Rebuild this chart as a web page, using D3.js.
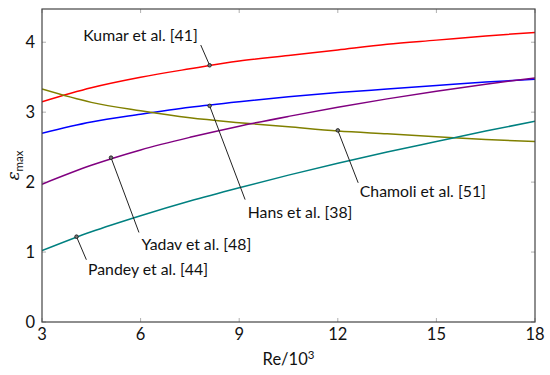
<!DOCTYPE html>
<html>
<head>
<meta charset="utf-8">
<script src="https://cdn.jsdelivr.net/npm/d3@7"></script>
<style>
  body { margin: 0; background: #fff; }
  svg { font-family: Lato, "Open Sans", sans-serif; }
</style>
</head>
<body>
<div id="chart"></div>
<script>
// Re/10^3 sample points
const reValues = [3, 4.5, 6, 7.5, 9, 10.5, 12, 13.5, 15, 16.5, 18];

// eps_max
const kumar   = [3.15, 3.35, 3.50, 3.62, 3.73, 3.81, 3.89, 3.97, 4.03, 4.09, 4.14];
const hans    = [2.70, 2.86, 2.97, 3.07, 3.15, 3.22, 3.28, 3.33, 3.38, 3.43, 3.47];
const chamoli = [3.33, 3.14, 3.02, 2.92, 2.85, 2.79, 2.73, 2.69, 2.65, 2.61, 2.58];
const yadav   = [1.97, 2.24, 2.46, 2.64, 2.80, 2.94, 3.07, 3.19, 3.30, 3.40, 3.49];
const pandey  = [1.02, 1.29, 1.52, 1.73, 1.92, 2.10, 2.27, 2.43, 2.58, 2.73, 2.87];

const xTicks = [3, 6, 9, 12, 15, 18];
const yTicks = [0, 1, 2, 3, 4];

const series = [
  { name: 'Kumar et al. [41]',   values: kumar,   color: '#ff0000' },
  { name: 'Hans et al. [38]',    values: hans,    color: '#0000ff' },
  { name: 'Chamoli et al. [51]', values: chamoli, color: '#808000' },
  { name: 'Yadav et al. [48]',   values: yadav,   color: '#800080' },
  { name: 'Pandey et al. [44]',  values: pandey,  color: '#008080' }
];

// pin: marker on curve, leader line end, label position (data units)
const pins = [
  { text: 'Kumar et al. [41]',   mx: 8.1,  my: 3.67, lx: 7.83, ly: 3.96, tx: 7.74, ty: 4.10, anchor: 'end' },
  { text: 'Hans et al. [38]',    mx: 8.1,  my: 3.09, lx: 9.18, ly: 1.75, tx: 9.26, ty: 1.56, anchor: 'start' },
  { text: 'Chamoli et al. [51]', mx: 12.0, my: 2.74, lx: 12.62, ly: 1.99, tx: 12.67, ty: 1.87, anchor: 'start' },
  { text: 'Yadav et al. [48]',   mx: 5.1,  my: 2.35, lx: 5.95, ly: 1.28, tx: 6.03, ty: 1.11, anchor: 'start' },
  { text: 'Pandey et al. [44]',  mx: 4.05, my: 1.22, lx: 4.35, ly: 0.89, tx: 4.40, ty: 0.75, anchor: 'start' }
];

const width = 550, height = 375;
const margin = { top: 9, right: 15, bottom: 53, left: 42 };

const svg = d3.select('#chart').append('svg')
  .attr('width', width)
  .attr('height', height);

const x = d3.scaleLinear().domain([3, 18]).range([margin.left, width - margin.right]);
const y = d3.scaleLinear().domain([0, 4.475]).range([height - margin.bottom, margin.top]);

const tickLen = 4;
const gridColor = '#b0b0b0';

// inner ticks on all four sides
const ticks = svg.append('g').attr('stroke', gridColor).attr('stroke-width', 1);
xTicks.forEach(t => {
  ticks.append('line').attr('x1', x(t)).attr('x2', x(t))
    .attr('y1', y.range()[0]).attr('y2', y.range()[0] - tickLen);
  ticks.append('line').attr('x1', x(t)).attr('x2', x(t))
    .attr('y1', y.range()[1]).attr('y2', y.range()[1] + tickLen);
});
yTicks.forEach(t => {
  ticks.append('line').attr('y1', y(t)).attr('y2', y(t))
    .attr('x1', x.range()[0]).attr('x2', x.range()[0] + tickLen);
  ticks.append('line').attr('y1', y(t)).attr('y2', y(t))
    .attr('x1', x.range()[1]).attr('x2', x.range()[1] - tickLen);
});

// curves
const line = d3.line()
  .x((d, i) => x(reValues[i]))
  .y(d => y(d))
  .curve(d3.curveMonotoneX);

svg.append('defs').append('clipPath').attr('id', 'plot')
  .append('rect')
  .attr('x', x.range()[0]).attr('y', y.range()[1])
  .attr('width', x.range()[1] - x.range()[0])
  .attr('height', y.range()[0] - y.range()[1]);

svg.append('g').attr('clip-path', 'url(#plot)')
  .selectAll('path')
  .data(series)
  .join('path')
  .attr('d', d => line(d.values))
  .attr('fill', 'none')
  .attr('stroke', d => d.color)
  .attr('stroke-width', 1.5);

// pins
const pinG = svg.append('g');
pins.forEach(p => {
  pinG.append('line')
    .attr('x1', x(p.mx)).attr('y1', y(p.my))
    .attr('x2', x(p.lx)).attr('y2', y(p.ly))
    .attr('stroke', '#222').attr('stroke-width', 1);
  pinG.append('circle')
    .attr('cx', x(p.mx)).attr('cy', y(p.my)).attr('r', 1.8)
    .attr('fill', '#777').attr('stroke', '#111').attr('stroke-width', 0.8);
  pinG.append('text')
    .attr('x', x(p.tx)).attr('y', y(p.ty))
    .attr('dy', '0.35em')
    .attr('text-anchor', p.anchor)
    .attr('font-size', 15.8)
    .attr('fill', '#111')
    .text(p.text);
});

// frame
svg.append('rect')
  .attr('x', x.range()[0]).attr('y', y.range()[1])
  .attr('width', x.range()[1] - x.range()[0])
  .attr('height', y.range()[0] - y.range()[1])
  .attr('fill', 'none')
  .attr('stroke', '#444')
  .attr('stroke-width', 1.2);

// tick labels
svg.append('g').selectAll('text')
  .data(xTicks)
  .join('text')
  .attr('x', d => x(d))
  .attr('y', y.range()[0] + 12)
  .attr('dy', '0.35em')
  .attr('text-anchor', 'middle')
  .attr('font-size', 16.5)
  .attr('fill', '#111')
  .text(d => d);

svg.append('g').selectAll('text')
  .data(yTicks)
  .join('text')
  .attr('x', x.range()[0] - 7)
  .attr('y', d => y(d))
  .attr('dy', '0.35em')
  .attr('text-anchor', 'end')
  .attr('font-size', 16.5)
  .attr('fill', '#111')
  .text(d => d);

// axis titles
const xt = svg.append('text')
  .attr('x', (x.range()[0] + x.range()[1]) / 2)
  .attr('y', 365)
  .attr('text-anchor', 'middle')
  .attr('font-size', 16.5)
  .attr('fill', '#111');
xt.append('tspan').text('Re/10');
xt.append('tspan').attr('dy', -6).attr('font-size', 11.5).text('3');

const yt = svg.append('text')
  .attr('transform', `translate(19,${(y.range()[0] + y.range()[1]) / 2}) rotate(-90)`)
  .attr('text-anchor', 'middle')
  .attr('font-size', 17)
  .attr('fill', '#111');
yt.append('tspan').attr('font-style', 'italic').attr('font-family', 'DejaVu Serif, serif').text('ε');
yt.append('tspan').attr('dy', 4).attr('font-size', 11.5).text('max');
</script>
</body>
</html>
